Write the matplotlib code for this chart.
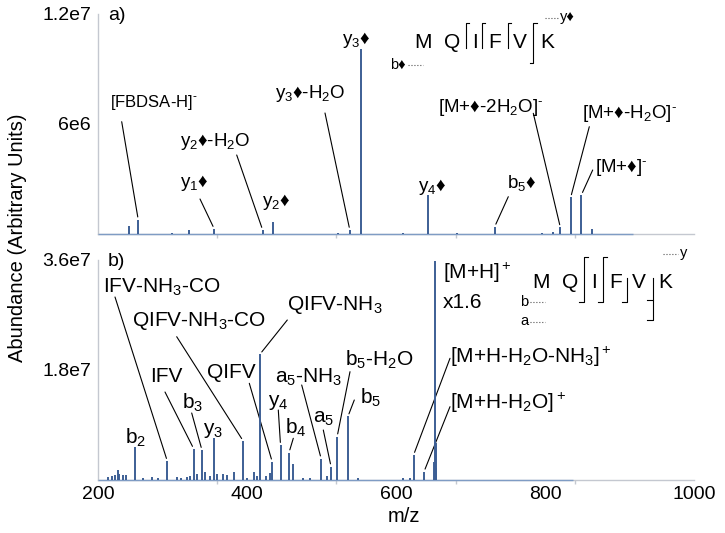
import numpy as np
import matplotlib.pyplot as plt

plt.rcParams['font.family'] = ['Liberation Sans', 'DejaVu Sans']
plt.rcParams['mathtext.fontset'] = 'custom'
plt.rcParams['mathtext.rm'] = 'Liberation Sans'
plt.rcParams['mathtext.it'] = 'Liberation Sans:italic'
plt.rcParams['mathtext.bf'] = 'Liberation Sans:bold'
plt.rcParams['mathtext.fallback'] = 'stixsans'

D = '\u2666'
NEG = '$^{\\text{-}}$'

# a) derivatised peptide, negative mode
top_scan = [200, 918]
top_mz = [241.6, 254, 299, 322, 356, 421, 435, 522, 538, 553, 609, 642.5,
          682, 732.5, 796, 811, 820.6, 834.5, 848.8, 863]
top_int = [0.45e6, 0.78e6, 0.08e6, 0.22e6, 0.28e6, 0.22e6, 0.68e6, 0.08e6,
           0.22e6, 10.1e6, 0.08e6, 2.1e6, 0.08e6, 0.4e6, 0.08e6, 0.1e6,
           0.36e6, 2.0e6, 2.13e6, 0.27e6]
top_label_mz = [254, 356, 421, 435, 538, 553, 642.5, 732.5, 820.6, 834.5, 848.8]
top_labels = ['[FBDSA-H]' + NEG, 'y$_1$' + D, 'y$_2$' + D + '-H$_2$O', 'y$_2$' + D,
              'y$_3$' + D + '-H$_2$O', 'y$_3$' + D, 'y$_4$' + D, 'b$_5$' + D,
              '[M+' + D + '-2H$_2$O]' + NEG, '[M+' + D + '-H$_2$O]' + NEG,
              '[M+' + D + ']' + NEG]

# b) native peptide, positive mode
bot_scan = [200, 837]
bot_mz = [213.9, 218.4, 222.8, 226.4, 228.6, 234, 237, 249.5, 260.8, 272, 281,
          293, 306.4, 311, 319, 323.5, 328.5, 333, 339.5, 343.6, 350.7, 355.7,
          360, 367.4, 372.8, 382.6, 394.8, 399.6, 409.4, 413, 417.5, 426, 430.9,
          433.8, 445, 456.4, 462, 475.6, 484.6, 499.5, 507, 512.8, 521, 535.5,
          549.4, 610, 619, 623.6, 637.6, 651.3, 652.2, 653.2, 654.2]
bot_int = [0.45e6, 0.65e6, 0.8e6, 1.6e6, 1.0e6, 0.8e6, 0.8e6, 5.45e6, 0.25e6,
           0.5e6, 0.3e6, 3.1e6, 0.5e6, 0.35e6, 0.5e6, 0.65e6, 5.1e6, 1.0e6,
           4.9e6, 1.3e6, 0.65e6, 6.8e6, 1.0e6, 1.0e6, 0.8e6, 1.3e6, 6.4e6,
           0.3e6, 1.3e6, 0.65e6, 20.6e6, 0.7e6, 1.1e6, 3.0e6, 5.7e6, 4.5e6,
           2.6e6, 0.4e6, 0.3e6, 3.5e6, 0.6e6, 2.2e6, 7.1e6, 10.4e6, 0.4e6,
           0.3e6, 0.4e6, 4.1e6, 1.36e6, 3.0e6, 35.8e6, 6.0e6, 2.0e6]
bot_label_mz = [293, 394.8, 417.5, 328.5, 339.5, 355.7, 249.5, 433.8, 445,
                456.4, 499.5, 512.8, 521, 535.5, 623.6, 637.6]
bot_labels = ['IFV-NH$_3$-CO', 'QIFV-NH$_3$-CO', 'QIFV-NH$_3$', 'IFV', 'b$_3$',
              'y$_3$', 'b$_2$', 'QIFV', 'y$_4$', 'b$_4$', 'a$_5$-NH$_3$', 'a$_5$',
              'b$_5$-H$_2$O', 'b$_5$', '[M+H-H$_2$O-NH$_3$]$^+$', '[M+H-H$_2$O]$^+$']

# label layout in figure pixels (text left x, text centre y, leader start or None)
top_pos = [(110, 102, (121.7, 121.7)), (180, 183, (200, 199)), (180, 142, (236.7, 155)),
           (262, 202, None), (275, 94, (325, 113)), (342, 40, None), (418, 187, None),
           (507, 183, (508.3, 196.7)), (438, 108, (533.3, 113.3)),
           (582, 113, (589.3, 126.7)), (595, 168, (592.7, 170))]
bot_pos = [(103, 287, (115, 297)), (132, 321, (176.7, 336.7)), (287, 305, (287.3, 320)),
           (150, 377, (165, 392)), (182, 403, (191.7, 413)), (203, 430, None),
           (125, 438, None), (207, 372, (249.3, 383.3)), (268, 402, (278.3, 410)),
           (285, 428, (293.3, 438.3)), (275, 377, (301.7, 385)), (313, 418, (323.3, 430)),
           (345, 360, (350, 371.7)), (360, 398, (354.3, 400)),
           (450, 357, (450, 358.3)), (450, 403, (450, 406.7))]

W, H = 725, 533
PEAK = '#3d5f95'
BASE = '#7f9cc4'
SPINE = '#c4c8d0'
FS = 14

fig = plt.figure(figsize=(W / 100, H / 100), dpi=100)
ax_a = fig.add_axes([98 / W, 1 - 234 / H, 596 / W, 220 / H])
ax_b = fig.add_axes([98 / W, 1 - 480 / H, 596 / W, 220 / H])
over = fig.add_axes([0, 0, 1, 1], zorder=5)
over.set_xlim(0, W)
over.set_ylim(H, 0)
over.set_axis_off()


def draw_spectrum(ax, scan, mz, inten, ymax, ticklabels, show_x):
    ax.hlines(0, scan[0], scan[1], color=BASE, lw=1.0, zorder=3, clip_on=False)
    ax.vlines(mz, 0, inten, color=PEAK, lw=1.4, zorder=4, clip_on=False)
    ax.set_xlim(200, 1000)
    ax.set_ylim(0, ymax)
    for s in ['top', 'right']:
        ax.spines[s].set_visible(False)
    for s in ['left', 'bottom']:
        ax.spines[s].set_color(SPINE)
        ax.spines[s].set_linewidth(1.0)
    ax.set_yticks([ymax / 2, ymax])
    ax.set_yticklabels(ticklabels)
    ax.tick_params(axis='y', length=0, pad=5, labelsize=FS)
    ax.set_xticks([200, 400, 600, 800, 1000])
    ax.set_xticks([200, 360, 520, 680, 840, 1000], minor=True)
    ax.tick_params(axis='x', which='major', length=0, pad=4, labelsize=FS,
                   labelbottom=show_x)
    ax.tick_params(axis='x', which='minor', length=3, color=SPINE, width=1)
    ax.patch.set_alpha(0)


draw_spectrum(ax_a, top_scan, top_mz, top_int, 1.2e7, ['6e6', '1.2e7'], False)
draw_spectrum(ax_b, bot_scan, bot_mz, bot_int, 3.6e7, ['1.8e7', '3.6e7'], True)


def label_peaks(ax, mz, inten, label_mz, labels, pos, size):
    for m, lab, (tx, ty, start) in zip(label_mz, labels, pos):
        h = inten[mz.index(m)]
        fs = size - 1.5 if lab.startswith('[FBDSA') else size
        over.text(tx, ty, lab, ha='left', va='center', fontsize=fs)
        if start is not None:
            ax.annotate('', xy=(m, h), xycoords='data', xytext=start,
                        textcoords=over.transData,
                        arrowprops=dict(arrowstyle='-', color='black', lw=0.8,
                                        shrinkA=0, shrinkB=2))


label_peaks(ax_a, top_mz, top_int, top_label_mz, top_labels, top_pos, 13.5)
label_peaks(ax_b, bot_mz, bot_int, bot_label_mz, bot_labels, bot_pos, 15)

over.text(108, 15, 'a)', ha='left', va='center', fontsize=FS)
over.text(108, 262, 'b)', ha='left', va='center', fontsize=FS)
over.text(443, 273, '[M+H]$^+$', ha='left', va='center', fontsize=15)
over.text(443, 303, 'x1.6', ha='left', va='center', fontsize=15)
over.text(18, 238, 'Abundance (Arbitrary Units)', rotation=90, ha='center',
          va='center', fontsize=14.5)
over.text(404, 516, 'm/z', ha='center', va='center', fontsize=14.5)

# fragmentation diagrams
def seq(xs, y, letters):
    for x, c in zip(xs, letters):
        over.text(x, y, c, ha='center', va='center', fontsize=15)


def seg(xs, ys, style='-'):
    over.plot(xs, ys, style, color='black' if style == '-' else '#555555', lw=0.8)


seq([423.5, 452.5, 475, 495, 520, 547.5], 42, 'MQIFVK')
for bx in [466, 481.7, 507.7]:
    seg([bx, bx, bx + 3.5], [48.3, 23, 23])
seg([529.8, 533.3, 533.3, 536.8], [63.3, 63.3, 23, 23])
seg([545, 559], [18.3, 18.3], ':')
over.text(560, 17, 'y' + D, ha='left', va='center', fontsize=10.5)
seg([408, 423], [65, 65], ':')
over.text(390, 65, 'b' + D, ha='left', va='center', fontsize=10.5)

seq([541.5, 570.5, 594.5, 616, 638.5, 665.5], 282, 'MQIFVK')
for bx in [584, 602.7]:
    seg([bx - 4.5, bx, bx, bx + 4], [301.7, 301.7, 257, 257])
seg([622, 626.7, 626.7], [301.7, 301.7, 278])
seg([647, 652.7, 652.7, 647], [300, 300, 320, 320])
seg([652.7, 652.7], [278, 300])
seg([663, 678], [254, 254], ':')
over.text(680, 253, 'y', ha='left', va='center', fontsize=10.5)
seg([527, 545], [301.7, 301.7], ':')
over.text(520, 302, 'b', ha='left', va='center', fontsize=10.5)
seg([527, 545], [321.7, 321.7], ':')
over.text(520, 321, 'a', ha='left', va='center', fontsize=10.5)

fig.savefig('out.png', dpi=100)
